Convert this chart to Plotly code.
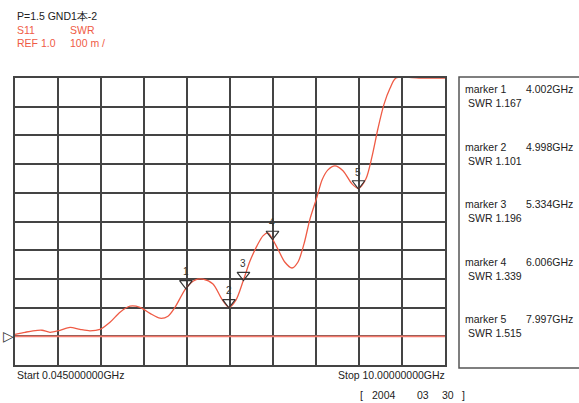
import plotly.graph_objects as go

# trace (GHz, SWR); values above 1.9 sit on the top edge
freq = [0.045, 0.277, 0.462, 0.67, 0.855, 1.087, 1.318, 1.55, 1.781, 2.013,
        2.244, 2.476, 2.707, 2.939, 3.17, 3.402, 3.587, 3.749, 4.002, 4.212,
        4.397, 4.629, 4.837, 4.998, 5.16, 5.334, 5.485, 5.647, 5.786, 5.9,
        6.006, 6.13, 6.29, 6.458, 6.597, 6.736, 6.875, 7.037, 7.153, 7.29,
        7.453, 7.638, 7.847, 7.997, 8.17, 8.31, 8.448, 8.587, 8.727, 8.866,
        9.4, 10.0]
swr = [1.007, 1.014, 1.019, 1.021, 1.014, 1.021, 1.031, 1.024, 1.019, 1.024,
       1.049, 1.084, 1.105, 1.101, 1.08, 1.063, 1.07, 1.101, 1.167, 1.196,
       1.199, 1.182, 1.129, 1.101, 1.126, 1.196, 1.262, 1.315, 1.35, 1.36,
       1.339, 1.304, 1.259, 1.238, 1.259, 1.322, 1.409, 1.486, 1.545, 1.58,
       1.594, 1.577, 1.531, 1.515, 1.549, 1.626, 1.724, 1.808, 1.864, 1.9,
       1.9, 1.9]

marker_ids = ["1", "2", "3", "4", "5"]
marker_freq = [4.002, 4.998, 5.334, 6.006, 7.997]
marker_swr = [1.167, 1.101, 1.196, 1.339, 1.515]

start_ghz = 0.045
stop_ghz = 10.0
ref_level = 1.0
per_div = 0.1
date_parts = ["2004", "03", "30"]

red = "#ef5b45"
grid = "#444444"
ink = "#333333"
font = "Liberation Sans, Arial, sans-serif"

fig = go.Figure()
# reference level line
fig.add_trace(
    go.Scatter(
        x=[start_ghz, stop_ghz],
        y=[ref_level, ref_level],
        mode="lines",
        line=dict(color="#f47a6c", width=1.8),
        hoverinfo="skip",
    )
)
fig.add_trace(
    go.Scatter(
        x=freq,
        y=swr,
        mode="lines",
        line=dict(color=red, width=1.3, shape="spline", smoothing=0.8),
        cliponaxis=False,
        hovertemplate="%{x:.3f}GHz<br>SWR %{y:.3f}<extra></extra>",
    )
)
# marker triangles, tip on the trace
fig.add_trace(
    go.Scatter(
        x=marker_freq,
        y=marker_swr,
        mode="markers",
        marker=dict(symbol="triangle-up-open", angle=180, standoff=5, size=11,
                    color=ink, line=dict(color=ink, width=1.2)),
        cliponaxis=False,
        hovertemplate="marker %{text}<br>%{x:.3f}GHz SWR %{y:.3f}<extra></extra>",
        text=marker_ids,
    )
)

span = stop_ghz - start_ghz
fig.update_xaxes(
    range=[start_ghz, stop_ghz], tick0=start_ghz, dtick=span / 10,
    showticklabels=False, showgrid=True, gridcolor=grid, gridwidth=1.6,
    showline=True, linecolor=grid, linewidth=1.6, mirror=True, zeroline=False,
)
fig.update_yaxes(
    range=[ref_level - per_div, ref_level + 9 * per_div], dtick=per_div,
    tick0=ref_level - per_div, showticklabels=False, showgrid=True,
    gridcolor=grid, gridwidth=1.6, showline=True, linecolor=grid,
    linewidth=1.6, mirror=True, zeroline=False,
)

ann = []
# header
ann.append(dict(x=0, y=357, text="P=1.5 GND1本-2", font=dict(color="#222")))
ann.append(dict(x=0, y=343, text="S11", font=dict(color=red)))
ann.append(dict(x=53, y=343, text="SWR", font=dict(color=red)))
ann.append(dict(x=0, y=330, text="REF %.1f" % ref_level, font=dict(color=red)))
ann.append(dict(x=53, y=330, text="%d m /" % round(per_div * 1000), font=dict(color=red)))
# footer
ann.append(dict(x=0, y=-2, text="Start %.9fGHz" % start_ghz, font=dict(color="#222")))
ann.append(dict(x=432, y=-2, text="Stop %.8fGHz" % stop_ghz,
                xanchor="right", font=dict(color="#222")))
ann.append(dict(x=343, y=-22, text="[", font=dict(color="#222")))
for px, part in zip([355, 400, 425], date_parts):
    ann.append(dict(x=px, y=-22, text=part, font=dict(color="#222")))
ann.append(dict(x=445, y=-22, text="]", font=dict(color="#222")))
# marker list
for i, (mid, f, s) in enumerate(zip(marker_ids, marker_freq, marker_swr)):
    y0 = 284 - i * 57.5
    ann.append(dict(x=448, y=y0, text="marker %s" % mid, font=dict(color="#222")))
    ann.append(dict(x=560, y=y0, text="%.3fGHz" % f, xanchor="right",
                    font=dict(color="#222")))
    ann.append(dict(x=451, y=y0 - 14, text="SWR %.3f" % s, font=dict(color="#222")))

for a in ann:
    a.update(xref="paper", yref="paper", showarrow=False, yanchor="top")
    a.setdefault("xanchor", "left")
    a["x"] = a["x"] / 430
    a["y"] = a["y"] / 287
    a["font"].update(family=font, size=10.5)

# marker numbers above the triangles
for mid, f, s in zip(marker_ids, marker_freq, marker_swr):
    ann.append(dict(x=f, y=s, xref="x", yref="y", text=mid, showarrow=False,
                    yanchor="bottom", yshift=9,
                    font=dict(family=font, size=10, color=ink)))

# reference level indicator at the left edge
ann.append(dict(x=start_ghz, y=ref_level, xref="x", yref="y", text="▷",
                showarrow=False, xanchor="right", xshift=1,
                font=dict(family="DejaVu Sans", size=14, color=ink)))

fig.update_layout(
    width=579, height=403,
    margin=dict(l=15, r=134, t=78, b=38),
    plot_bgcolor="white", paper_bgcolor="white",
    showlegend=False,
    annotations=ann,
    shapes=[dict(type="rect", xref="paper", yref="paper",
                 x0=444 / 430, x1=600 / 430, y0=-3 / 287, y1=288 / 287,
                 line=dict(color="#555", width=1.5))],
)

# drop the default page margin so the figure sits at the window's corner
fig.write_html("out.html", config={"displayModeBar": False},
               post_script="document.body.style.margin='0';")
